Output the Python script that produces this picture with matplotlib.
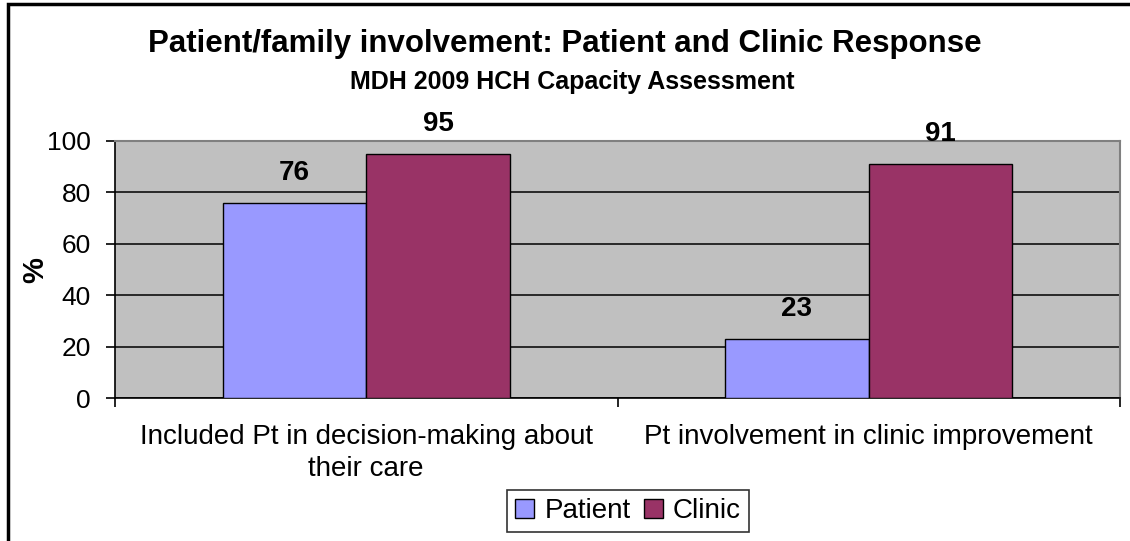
import matplotlib.pyplot as plt
import numpy as np
from matplotlib.patches import Rectangle

# Datos del gráfico
categorias = ['Included Pt in decision-making about\ntheir care',
              'Pt involvement in clinic improvement']
series = ['Patient', 'Clinic']
patient = [76, 23]
clinic = [95, 91]
colores = ['#9999FF', '#993366']

plt.rcParams['font.family'] = ['Liberation Sans', 'DejaVu Sans']

fig = plt.figure(figsize=(11.3, 5.41), dpi=100)
W, H = 1130, 541

# Área de trazado (coordenadas en píxeles)
left, right, top, bottom = 115, 1120, 141, 398
ax = fig.add_axes([left / W, 1 - bottom / H, (right - left) / W, (bottom - top) / H])
ax.set_facecolor('#C0C0C0')

x = np.arange(len(categorias))
ancho = 1 / 3.5
barras_p = ax.bar(x - ancho / 2, patient, ancho, color=colores[0], edgecolor='black',
                  linewidth=1, label=series[0], zorder=3)
barras_c = ax.bar(x + ancho / 2, clinic, ancho, color=colores[1], edgecolor='black',
                  linewidth=1, label=series[1], zorder=3)

for barras in (barras_p, barras_c):
    for b in barras:
        ax.annotate(f'{b.get_height():.0f}', (b.get_x() + b.get_width() / 2, b.get_height()),
                    xytext=(0, 16.5), textcoords='offset points', ha='center', va='baseline',
                    fontsize=20, fontweight='bold', zorder=5)

ax.set_xlim(-0.5, 1.5)
ax.set_ylim(0, 100)
ax.set_yticks(range(0, 101, 20))
ax.yaxis.grid(True, color='black', linewidth=1.1, zorder=1)
ax.set_axisbelow(True)

ax.set_xticks([-0.5, 0.5, 1.5], minor=False)
ax.set_xticklabels([])
ax.set_xticks(x, minor=True)
ax.set_xticklabels(categorias, minor=True, fontsize=20, linespacing=1.3)
ax.tick_params(axis='x', which='minor', length=0, pad=19)
ax.tick_params(axis='x', which='major', length=6.5, width=1.2, direction='out')
ax.tick_params(axis='y', length=6.5, width=1.2, direction='out', labelsize=19, pad=11)

for lado in ('top', 'right'):
    ax.spines[lado].set_color('#808080')
    ax.spines[lado].set_linewidth(1.5)
for lado in ('left', 'bottom'):
    ax.spines[lado].set_color('black')
    ax.spines[lado].set_linewidth(1.2)

fig.text(35 / W, 1 - 270 / H, '%', rotation=90, ha='center', va='center',
         fontsize=21, fontweight='bold')

fig.text(565 / W, 1 - 52 / H, 'Patient/family involvement: Patient and Clinic Response',
         ha='center', va='baseline', fontsize=22.5, fontweight='bold')
fig.text(572 / W, 1 - 88.5 / H, 'MDH 2009 HCH Capacity Assessment',
         ha='center', va='baseline', fontsize=18, fontweight='bold')

leg = fig.legend(handles=[barras_p, barras_c], labels=series, loc='center',
                 bbox_to_anchor=(628 / W, 1 - 511 / H), ncol=2, fontsize=20,
                 frameon=True, fancybox=False, edgecolor='black', handlelength=0.7,
                 handleheight=0.7, handletextpad=0.36, columnspacing=0.47,
                 borderpad=0.3, borderaxespad=0)
leg.get_frame().set_linewidth(1.2)

# Borde exterior del gráfico
fig.patches.append(Rectangle((8 / W, -0.1), 1.2, 1.1 - 4 / H, transform=fig.transFigure,
                             fill=False, edgecolor='black', linewidth=2.5))

fig.savefig('out.png', dpi=100)
